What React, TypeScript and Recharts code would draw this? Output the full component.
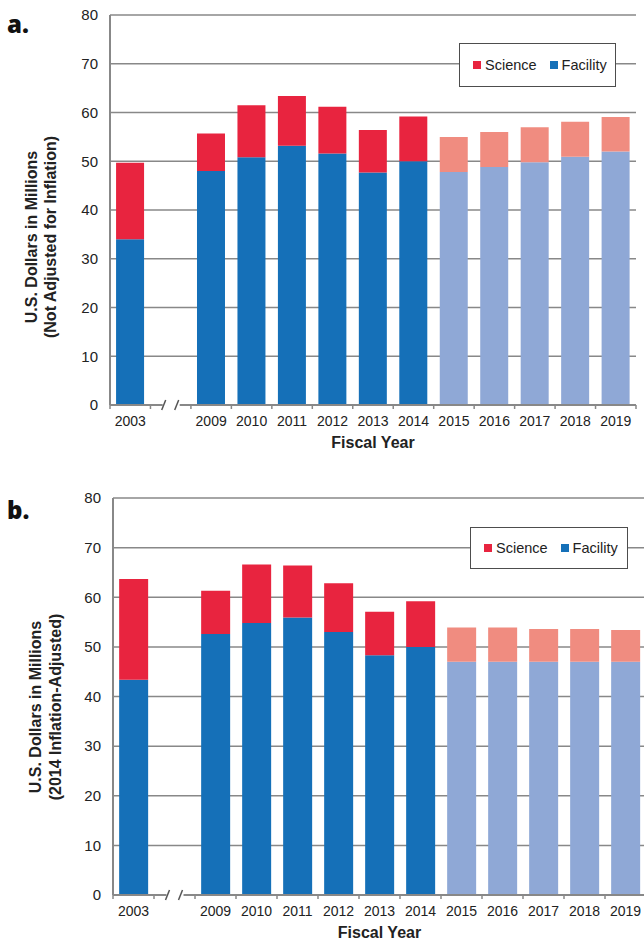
import React from "react";
import { BarChart, Bar, XAxis, YAxis, CartesianGrid, Legend, Cell } from "recharts";

const BREAK = "break";
const years = [
  "2003", BREAK, "2009", "2010", "2011", "2012", "2013", "2014",
  "2015", "2016", "2017", "2018", "2019",
];
const projected = [false, false, false, false, false, false, false, false, true, true, true, true, true];

// panel a: not adjusted for inflation
const facilityNominal = [34, null, 48, 50.8, 53.2, 51.6, 47.7, 50, 47.8, 48.8, 49.8, 50.9, 52];
const scienceNominal = [15.7, null, 7.7, 10.7, 10.2, 9.6, 8.7, 9.2, 7.2, 7.2, 7.2, 7.2, 7.1];

// panel b: 2014 inflation-adjusted
const facilityAdjusted = [43.4, null, 52.6, 54.8, 55.9, 53, 48.3, 50, 47, 47, 47, 47, 47];
const scienceAdjusted = [20.3, null, 8.7, 11.8, 10.5, 9.8, 8.8, 9.2, 6.9, 6.9, 6.6, 6.6, 6.4];

const yTicks = [0, 10, 20, 30, 40, 50, 60, 70, 80];

const FONT = "'Liberation Sans', Arial, sans-serif";
const GRID = "#888888";
const TEXT = "#222222";
const FACILITY = "#1570b8";
const SCIENCE = "#e8243f";
const FACILITY_LIGHT = "#8fa8d6";
const SCIENCE_LIGHT = "#f08c80";

function buildRows(facility: (number | null)[], science: (number | null)[]) {
  return years.map((year, i) => ({
    year,
    facility: facility[i],
    science: science[i],
    projected: projected[i],
  }));
}

function YearTick(props: any) {
  const { x, y, payload, index } = props;
  const half = payload?.offset ?? 20;
  const isLast = index === years.length - 1;
  return (
    <g>
      <line x1={x - half} x2={x - half} y1={y} y2={y + 4} stroke={GRID} strokeWidth={1.5} />
      {isLast && <line x1={x + half} x2={x + half} y1={y} y2={y + 4} stroke={GRID} strokeWidth={1.5} />}
      {payload.value === BREAK ? (
        <g>
          <rect x={x - 8} y={y - 3} width={17} height={6} fill="#fff" />
          <line x1={x - 9} y1={y + 5} x2={x - 5} y2={y - 5} stroke="#555" strokeWidth={1.5} />
          <line x1={x + 4} y1={y + 5} x2={x + 8} y2={y - 5} stroke="#555" strokeWidth={1.5} />
        </g>
      ) : (
        <text x={x} y={y + 21} textAnchor="middle" fontSize={14} fill={TEXT} fontFamily={FONT}>
          {payload.value}
        </text>
      )}
    </g>
  );
}

function LegendBox({ payload }: any) {
  const items = [...(payload || [])].reverse();
  return (
    <div
      style={{
        boxSizing: "border-box",
        width: "100%",
        height: "100%",
        border: "1.5px solid #4d4d4d",
        background: "#fff",
        display: "flex",
        alignItems: "center",
        paddingLeft: 13,
        fontFamily: FONT,
        fontSize: 14.5,
        color: TEXT,
      }}
    >
      {items.map((entry: any, i: number) => (
        <span key={entry.value} style={{ display: "flex", alignItems: "center", marginLeft: i ? 13 : 0 }}>
          <span style={{ width: 8, height: 8, background: entry.color, marginRight: 4 }} />
          {entry.value}
        </span>
      ))}
    </div>
  );
}

interface PanelProps {
  tag: string;
  tagTop: number;
  rows: ReturnType<typeof buildRows>;
  height: number;
  margin: { top: number; right: number; left: number; bottom: number };
  yWidth: number;
  titleLines: string[];
  titleX: number;
  titleShift: number;
  titleGap: number;
  legendPos: { left: number; top: number; width: number; height: number };
}

function Panel(p: PanelProps) {
  const yTitle = ({ viewBox }: any) => {
    const vb = viewBox || { x: 0, y: 0, width: p.yWidth, height: 390 };
    const cy = vb.y + vb.height / 2 + p.titleShift;
    return (
      <text
        transform={`rotate(-90, ${p.titleX}, ${cy})`}
        x={p.titleX}
        y={cy}
        textAnchor="middle"
        fontFamily={FONT}
        fontWeight="bold"
        fontSize={16}
        fill={TEXT}
      >
        <tspan x={p.titleX} dy={0}>{p.titleLines[0]}</tspan>
        <tspan x={p.titleX} dy={p.titleGap}>{p.titleLines[1]}</tspan>
      </text>
    );
  };
  const xTitle = ({ viewBox }: any) => {
    const vb = viewBox || { x: 110, y: 405, width: 526, height: 30 };
    return (
      <text
        x={vb.x + vb.width / 2}
        y={vb.y + 43}
        textAnchor="middle"
        fontFamily={FONT}
        fontWeight="bold"
        fontSize={16}
        fill={TEXT}
      >
        Fiscal Year
      </text>
    );
  };

  return (
    <div style={{ position: "relative", width: 644, height: p.height }}>
      <div
        style={{
          position: "absolute",
          left: 7,
          top: p.tagTop,
          fontFamily: "'Open Sans', sans-serif",
          fontWeight: 800,
          fontSize: 24,
          lineHeight: "24px",
          color: "#111",
        }}
      >
        {p.tag}
      </div>
      <BarChart
        width={644}
        height={p.height}
        data={p.rows}
        margin={p.margin}
        barCategoryGap="15%"
        style={{ fontFamily: FONT }}
      >
        <CartesianGrid vertical={false} stroke={GRID} strokeWidth={1.5} />
        <XAxis
          dataKey="year"
          height={30}
          interval={0}
          tickLine={false}
          tickSize={0}
          tickMargin={0}
          axisLine={{ stroke: GRID, strokeWidth: 2 }}
          tick={(t: any) => <YearTick {...t} />}
          label={{ content: xTitle }}
        />
        <YAxis
          width={p.yWidth}
          domain={[0, 80]}
          ticks={yTicks}
          interval={0}
          tickLine={false}
          tickSize={0}
          tickMargin={12}
          axisLine={{ stroke: GRID, strokeWidth: 2 }}
          tick={{ fontSize: 15, fill: TEXT, fontFamily: FONT }}
          label={{ content: yTitle }}
        />
        <Legend
          layout="vertical"
          align="center"
          verticalAlign="middle"
          wrapperStyle={p.legendPos}
          content={<LegendBox />}
        />
        <Bar dataKey="facility" name="Facility" stackId="a" fill={FACILITY} isAnimationActive={false}>
          {p.rows.map((r) => (
            <Cell key={r.year} fill={r.projected ? FACILITY_LIGHT : FACILITY} />
          ))}
        </Bar>
        <Bar dataKey="science" name="Science" stackId="a" fill={SCIENCE} isAnimationActive={false}>
          {p.rows.map((r) => (
            <Cell key={r.year} fill={r.projected ? SCIENCE_LIGHT : SCIENCE} />
          ))}
        </Bar>
      </BarChart>
    </div>
  );
}

export default function App() {
  return (
    <div style={{ position: "relative", width: 644, height: 943, overflow: "hidden", background: "#fff" }}>
      <style>{"body{margin:0}"}</style>
      <Panel
        tag="a."
        tagTop={12}
        rows={buildRows(facilityNominal, scienceNominal)}
        height={470}
        margin={{ top: 15, right: 8, left: 0, bottom: 35 }}
        yWidth={110}
        titleLines={["U.S. Dollars in Millions", "(Not Adjusted for Inflation)"]}
        titleX={36.8}
        titleShift={27}
        titleGap={19}
        legendPos={{ left: 459, top: 43, width: 157, height: 44 }}
      />
      <Panel
        tag="b."
        tagTop={28}
        rows={buildRows(facilityAdjusted, scienceAdjusted)}
        height={473}
        margin={{ top: 28, right: -2, left: 0, bottom: 18 }}
        yWidth={113}
        titleLines={["U.S. Dollars in Millions", "(2014 Inflation-Adjusted)"]}
        titleX={40.8}
        titleShift={10.5}
        titleGap={20}
        legendPos={{ left: 470, top: 57, width: 158, height: 42 }}
      />
    </div>
  );
}
